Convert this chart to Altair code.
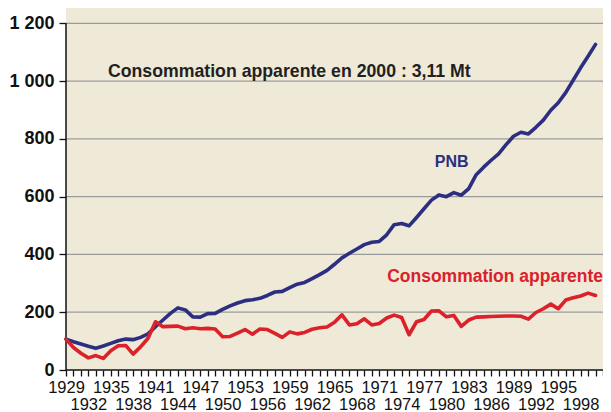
import altair as alt
import pandas as pd

years = list(range(1929, 2001))

pnb = [107, 98, 90, 82, 75, 83, 92, 101, 107, 105,
       113, 125, 150, 173, 196, 215, 208, 184, 183, 195,
       196, 210, 222, 232, 240, 243, 248, 258, 270, 272,
       285, 297, 303, 316, 330, 345, 366, 388, 404, 419,
       434, 442, 445, 468, 503, 507, 499, 528, 558, 588,
       606, 600, 614, 605, 628, 676, 702, 726, 748, 780,
       809, 823, 817, 840, 865, 899, 925, 960, 1003, 1046,
       1086, 1127]

conso = [107, 78, 58, 42, 50, 40, 67, 84, 85, 55,
         80, 110, 167, 150, 151, 152, 143, 146, 143, 144,
         142, 115, 116, 128, 140, 124, 142, 140, 127, 113,
         132, 125, 130, 141, 146, 149, 165, 191, 156, 160,
         177, 156, 161, 180, 190, 182, 122, 167, 175, 204,
         205, 184, 189, 151, 173, 183, 184, 185, 186, 187,
         187, 186, 176, 199, 212, 228, 212, 242, 250, 256,
         266, 258]

series_names = ["PNB", "Consommation apparente"]
series_colors = ["#2c2f80", "#db2129"]

y_ticks = [0, 200, 400, 600, 800, 1000, 1200]
grid_values = [200, 400, 600, 800, 1000, 1200]
x_ticks = list(range(1929, 2002))

note_text = ["Consommation apparente en 2000 : 3,11 Mt"]

df = pd.DataFrame({
    "year": years * 2,
    "value": pnb + conso,
    "series": [series_names[0]] * len(years) + [series_names[1]] * len(years),
})

XDOM = [1929, 2001]
YDOM = [0, 1253]
FONT = "Liberation Sans, Arial, sans-serif"

xscale = alt.Scale(domain=XDOM, nice=False, zero=False)
yscale = alt.Scale(domain=YDOM, nice=False)

x_axis = alt.Axis(
    values=x_ticks, tickCount=500, title=None, domain=False, grid=False,
    tickColor="#111111", tickSize=6, tickWidth=1.3,
    labelExpr="datum.value > 1998 ? '' : (datum.value % 6 == 3 ? '' + datum.value : (datum.value % 6 == 0 ? ['', '' + datum.value] : ''))",
    labelOverlap=False, labelFlush=False, labelBound=False,
    labelFont=FONT, labelFontSize=16.5, labelColor="#111111",
    labelBaseline="alphabetic", labelPadding=16, labelLineHeight=17,
)
y_axis = alt.Axis(
    values=y_ticks, tickCount=50, title=None, domain=False, grid=False,
    tickColor="#111111", tickSize=7, tickWidth=1.3,
    labelExpr="replace(format(datum.value, ','), ',', ' ')",
    labelFont=FONT, labelFontSize=18, labelFontWeight="bold",
    labelColor="#111111", labelPadding=5,
)

grid_df = pd.DataFrame({"v": grid_values, "x0": [1929] * len(grid_values), "x1": [2001] * len(grid_values)})
grid = alt.Chart(grid_df).mark_rule(color="#9b9b9b", strokeWidth=1.3).encode(
    x=alt.X("x0:Q", scale=xscale, axis=x_axis),
    x2="x1:Q",
    y=alt.Y("v:Q", scale=yscale, axis=y_axis),
)

xaxis_line = alt.Chart(pd.DataFrame({"a": [1929], "b": [2001], "v": [0]})).mark_rule(
    color="#111111", strokeWidth=1.5).encode(
    x=alt.X("a:Q", scale=xscale), x2="b:Q", y=alt.Y("v:Q", scale=yscale))
yaxis_line = alt.Chart(pd.DataFrame({"x": [1929], "a": [0], "b": [1200]})).mark_rule(
    color="#111111", strokeWidth=1.5).encode(
    x=alt.X("x:Q", scale=xscale), y=alt.Y("a:Q", scale=yscale), y2="b:Q")

lines = alt.Chart(df).mark_line(strokeWidth=3.6, strokeJoin="round", strokeCap="round").encode(
    x=alt.X("year:Q", scale=xscale),
    y=alt.Y("value:Q", scale=yscale),
    color=alt.Color("series:N", scale=alt.Scale(domain=series_names, range=series_colors), legend=None),
    detail="series:N",
)

note = alt.Chart(pd.DataFrame({"t": note_text, "x": [1934.63], "y": [1015]})).mark_text(
    align="left", baseline="alphabetic", font=FONT, fontSize=17.7,
    fontWeight="bold", color="#231f20").encode(
    x=alt.X("x:Q", scale=xscale), y=alt.Y("y:Q", scale=yscale), text="t:N")

pnb_label = alt.Chart(pd.DataFrame({"t": [series_names[0]], "x": [1980.7], "y": [703]})).mark_text(
    align="center", baseline="alphabetic", font=FONT, fontSize=16,
    fontWeight="bold", color=series_colors[0]).encode(
    x=alt.X("x:Q", scale=xscale), y=alt.Y("y:Q", scale=yscale), text="t:N")

conso_label = alt.Chart(pd.DataFrame({"t": [series_names[1]], "x": [2001], "y": [306]})).mark_text(
    align="right", baseline="alphabetic", font=FONT, fontSize=17.5,
    fontWeight="bold", color=series_colors[1]).encode(
    x=alt.X("x:Q", scale=xscale), y=alt.Y("y:Q", scale=yscale), text="t:N")

chart = alt.layer(grid, xaxis_line, yaxis_line, lines, note, pnb_label, conso_label).properties(
    width=537, height=362,
    padding={"left": 58, "top": 0, "right": 0, "bottom": 42},
    autosize="none",
    background="#ffffff",
).configure_view(fill="#efe9d8", stroke=None)

chart.save("out.html", embed_options={"renderer": "svg", "actions": False})
